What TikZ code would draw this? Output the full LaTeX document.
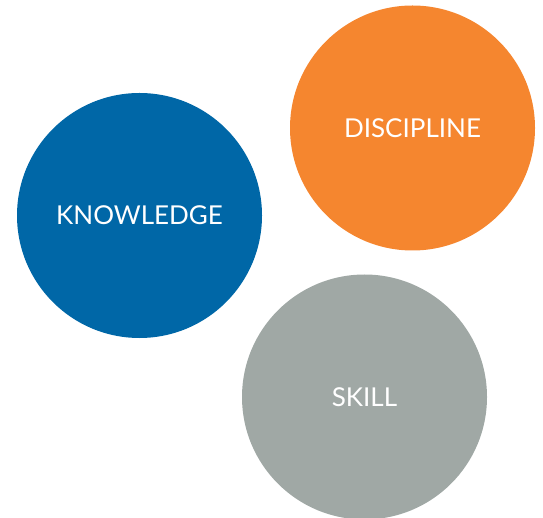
\documentclass[tikz,border=0pt]{standalone}
\usepackage{fontspec}
\setmainfont{Lato}
\definecolor{kblue}{HTML}{0067A7}
\definecolor{dorange}{HTML}{F5862F}
\definecolor{sgray}{HTML}{A0A8A5}
\begin{document}
\begin{tikzpicture}[x=1pt,y=-1pt,
  bubble/.style={circle, minimum size=245pt, inner sep=0pt, text=white,
    font=\fontsize{26}{30}\selectfont}]
\useasboundingbox (0,0) rectangle (543,518);
\node[bubble, fill=kblue]   (know) at (139.5,215.5) {KNOWLEDGE};
\node[bubble, fill=dorange] (disc) at (412.5,128)   {DISCIPLINE};
\node[bubble, fill=sgray]   (skill) at (364.5,397)  {SKILL};
\end{tikzpicture}
\end{document}
